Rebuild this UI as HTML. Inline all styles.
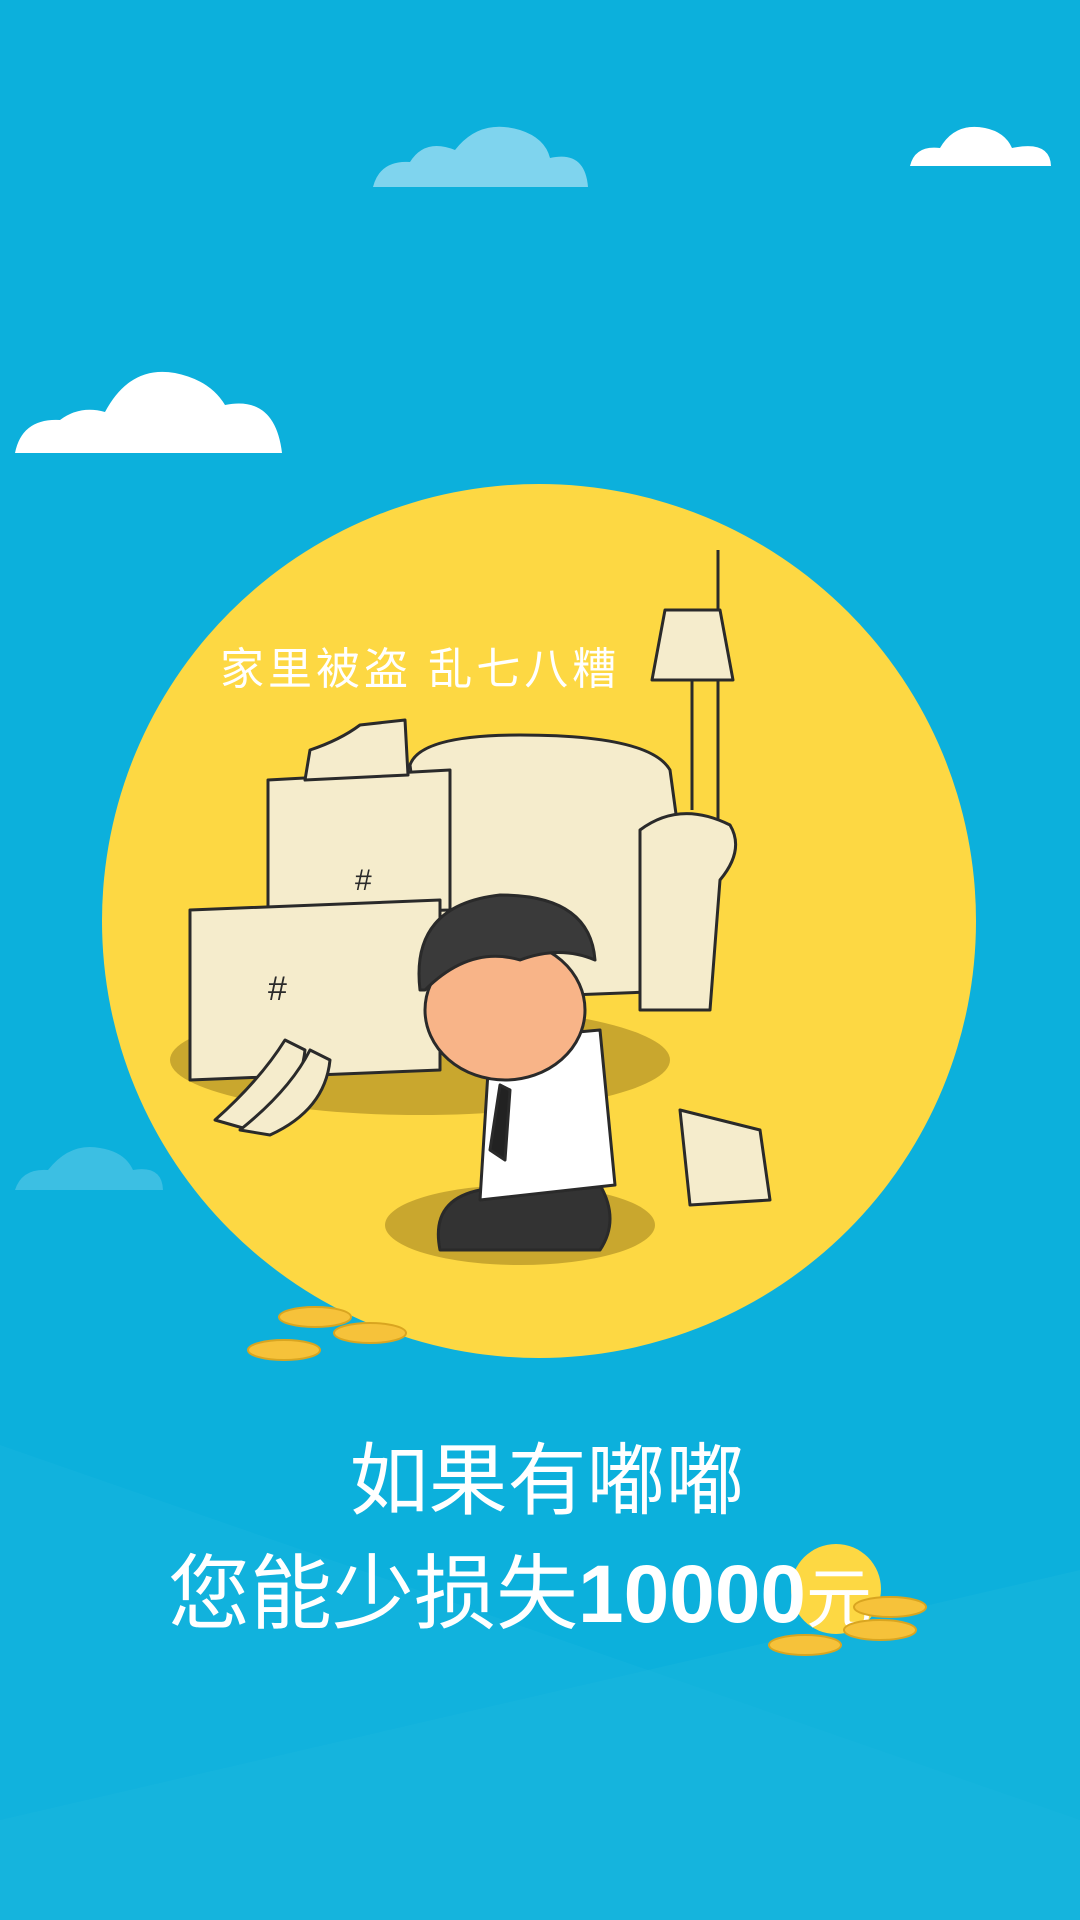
<!DOCTYPE html>
<html><head><meta charset="utf-8">
<style>
html,body{margin:0;padding:0;}
body{width:1080px;height:1920px;overflow:hidden;background:#0cb0dc;}
svg{display:block;}
text{font-family:"Liberation Sans","Noto Sans CJK SC",sans-serif;}
</style></head>
<body>
<svg width="1080" height="1920" viewBox="0 0 1080 1920">
  <rect width="1080" height="1920" fill="#0cb0dc"/>
  <polygon points="0,1445 1080,1820 1080,1920 0,1920" fill="#1ab6de" opacity="0.4"/>
  <polygon points="0,1820 1080,1570 1080,1920 0,1920" fill="#22badf" opacity="0.3"/>

  <g fill="#7fd4ee">
    <path d="M373,187 Q380,160 410,162 Q425,138 455,150 Q480,118 520,130 Q545,138 550,158 Q585,150 588,187 Z"/>
  </g>
  <g fill="#ffffff">
    <path d="M910,166 Q915,145 940,148 Q955,122 985,128 Q1005,132 1012,148 Q1050,140 1051,166 Z"/>
  </g>
  <g fill="#ffffff">
    <path d="M15,453 Q22,418 60,420 Q80,405 105,412 Q130,365 175,373 Q210,380 225,405 Q275,395 282,453 Z"/>
  </g>
  <g fill="#3cbfe3">
    <path d="M15,1190 Q22,1168 48,1170 Q70,1142 100,1148 Q125,1152 133,1170 Q162,1165 163,1190 Z"/>
  </g>

  <circle cx="539" cy="921" r="437" fill="#fdd843"/>

  <text x="220" y="684" font-size="44" fill="#ffffff" letter-spacing="4">家里被盗  乱七八糟</text>

  <g stroke="#2a2a2a" stroke-width="3" stroke-linejoin="round">
    <ellipse cx="420" cy="1060" rx="250" ry="55" fill="#c9a72e" stroke="none"/>
    <ellipse cx="520" cy="1225" rx="135" ry="40" fill="#c9a72e" stroke="none"/>
    <line x1="718" y1="550" x2="718" y2="820" />
    <line x1="692" y1="680" x2="692" y2="810"/>
    <polygon points="665,610 720,610 733,680 652,680" fill="#f5eccc"/>
    <path d="M410,765 Q420,735 520,735 Q650,735 670,770 L700,990 L440,1000 Z" fill="#f5eccc"/>
    <path d="M640,830 Q680,800 730,825 Q745,850 720,880 L710,1010 L640,1010 Z" fill="#f5eccc"/>
    <polygon points="268,780 450,770 450,910 268,915" fill="#f5eccc"/>
    <polygon points="190,910 440,900 440,1070 190,1080" fill="#f5eccc"/>
    <text x="268" y="1000" font-size="34" fill="#2a2a2a" stroke="none">#</text>
    <text x="355" y="890" font-size="30" fill="#2a2a2a" stroke="none">#</text>
    <path d="M305,780 L310,750 Q340,740 360,725 L405,720 L408,775 Z" fill="#f5eccc"/>
    <path d="M215,1120 Q260,1080 285,1040 L305,1050 Q300,1100 250,1130 Z" fill="#f5eccc"/>
    <path d="M240,1130 Q290,1090 310,1050 L330,1060 Q325,1110 270,1135 Z" fill="#f5eccc"/>
    <polygon points="680,1110 760,1130 770,1200 690,1205" fill="#f5eccc"/>
    <path d="M440,1250 Q430,1200 480,1190 L600,1185 Q620,1220 600,1250 Z" fill="#333"/>
    <path d="M490,1040 L600,1030 L615,1185 L480,1200 Z" fill="#ffffff"/>
    <polygon points="500,1085 490,1150 505,1160 510,1090" fill="#222"/>
    <ellipse cx="505" cy="1010" rx="80" ry="70" fill="#f8b488"/>
    <path d="M420,990 Q410,905 500,895 Q590,895 595,960 Q560,945 520,960 Q470,945 425,990 Z" fill="#3a3a3a"/>
  </g>

  <g stroke="#d9a520" stroke-width="2">
    <ellipse cx="315" cy="1317" rx="36" ry="10" fill="#f6c23a"/>
    <ellipse cx="370" cy="1333" rx="36" ry="10" fill="#f6c23a"/>
    <ellipse cx="284" cy="1350" rx="36" ry="10" fill="#f6c23a"/>
  </g>

  <text x="547" y="1508" font-size="79" fill="#ffffff" text-anchor="middle">如果有嘟嘟</text>
  <circle cx="836" cy="1589" r="45" fill="#fdd843"/>
  <text x="168" y="1622" font-size="82" fill="#ffffff">您能少损失<tspan font-weight="bold">10000</tspan><tspan font-size="66">元</tspan></text>

  <g stroke="#d9a520" stroke-width="2">
    <ellipse cx="890" cy="1607" rx="36" ry="10" fill="#f6c23a"/>
    <ellipse cx="880" cy="1630" rx="36" ry="10" fill="#f6c23a"/>
    <ellipse cx="805" cy="1645" rx="36" ry="10" fill="#f6c23a"/>
  </g>
</svg>
</body></html>
